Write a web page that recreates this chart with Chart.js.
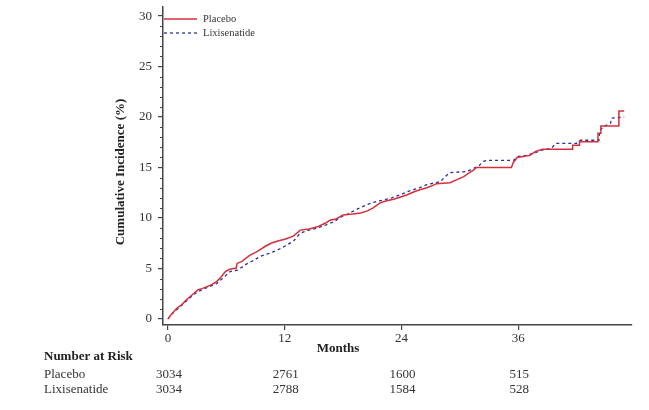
<!DOCTYPE html>
<html>
<head>
<meta charset="utf-8">
<script src="https://cdn.jsdelivr.net/npm/chart.js@4.4.3/dist/chart.umd.min.js"></script>
<style>
  html, body { margin: 0; padding: 0; background: #fff; }
  #wrap { width: 649px; height: 410px; position: relative; }
</style>
</head>
<body>
<div id="wrap"><canvas id="km"></canvas></div>
<script>
// cumulative incidence (%), months since randomisation
const placeboMonths = [0, 0.3, 0.9, 1.4, 1.9, 2.5, 3.1, 3.5, 4.0, 4.5, 5.0, 5.5, 5.9, 6.3, 6.7, 7.0, 7.1, 7.6, 8.4, 9.2,
  10.0, 10.6, 11.2, 12.0, 12.9, 13.6, 14.5, 15.3, 16.2, 16.7, 17.3, 18.0, 19.0, 19.8, 20.5, 21.1, 21.8, 22.5, 23.2, 24.0,
  24.6, 25.3, 25.9, 26.6, 27.3, 27.6, 29.0, 29.7, 30.4, 31.0, 31.4, 31.7, 35.3, 35.5, 35.9, 36.5, 37.2, 37.8, 38.5,
  41.6, 41.6, 42.3, 42.3, 44.2, 44.2, 44.5, 44.5, 46.35, 46.35, 46.9];
const placeboPct = [0, 0.4, 1.06, 1.4, 1.9, 2.4, 2.9, 3.0, 3.2, 3.4, 3.7, 4.2, 4.7, 4.9, 5.0, 5.0, 5.5, 5.7, 6.3, 6.7,
  7.2, 7.5, 7.7, 7.9, 8.2, 8.8, 8.9, 9.1, 9.5, 9.8, 9.9, 10.3, 10.4, 10.5, 10.7, 11.0, 11.5, 11.7, 11.85, 12.1,
  12.3, 12.6, 12.8, 13.0, 13.25, 13.4, 13.5, 13.8, 14.1, 14.5, 14.75, 15.0, 15.0, 15.5, 16.0, 16.1, 16.2, 16.6, 16.8,
  16.8, 17.2, 17.2, 17.55, 17.55, 18.4, 18.4, 19.1, 19.1, 20.6, 20.6];

const lixiMonths = [0, 0.4, 0.9, 1.7, 2.6, 3.3, 4.0, 5.0, 5.6, 6.4, 7.2, 8.0, 8.8, 9.5, 10.4, 11.2, 12.0, 12.9, 13.6,
  14.5, 15.3, 16.2, 17.0, 17.8, 18.7, 19.5, 20.4, 21.3, 22.2, 23.0, 23.9, 24.6, 25.2, 25.9, 26.6, 27.3, 28.0, 28.5,
  29.0, 30.7, 31.4, 32.0, 32.4, 32.8, 35.5, 36.0, 36.8, 37.6, 38.3, 39.4, 39.9, 42.0, 42.4, 44.3, 44.4, 44.9, 45.5,
  45.6, 46.9];
const lixiPct = [0, 0.5, 0.9, 1.6, 2.4, 2.8, 3.1, 3.5, 4.0, 4.7, 4.85, 5.4, 5.8, 6.2, 6.5, 6.8, 7.2, 7.7, 8.5,
  8.8, 9.0, 9.3, 9.6, 10.1, 10.5, 10.9, 11.3, 11.6, 11.8, 12.0, 12.3, 12.6, 12.8, 13.0, 13.3, 13.45, 13.6, 14.1,
  14.5, 14.6, 14.9, 15.2, 15.6, 15.7, 15.7, 16.1, 16.2, 16.4, 16.7, 16.9, 17.4, 17.4, 17.7, 17.7, 18.7, 19.1, 19.4,
  19.9, 20.0];

const xTicks = [0, 12, 24, 36];
const yTicks = [0, 5, 10, 15, 20, 25, 30];

const riskTimes = [0, 12, 24, 36];
const placeboAtRisk = [3034, 2761, 1600, 515];
const lixiAtRisk = [3034, 2788, 1584, 528];

const SERIF = "'Liberation Serif', 'DejaVu Serif', serif";
const INK = "#333333";
const AXIS = "#444444";

function toPoints(xs, ys) {
  return xs.map((x, i) => ({ x, y: ys[i] }));
}

// drop the label padding chart.js adds, so the plot box sits where the reference has it
function noPadding(s) {
  s.paddingTop = 0;
  s.paddingBottom = 0;
  s.paddingLeft = 0;
  s.paddingRight = 0;
}

// legend, minor ticks, axis titles and the number-at-risk table
const annotations = {
  id: "annotations",
  afterDraw(chart) {
    const ctx = chart.ctx;
    const x = chart.scales.x;
    const y = chart.scales.y;
    ctx.save();

    // minor y ticks every 1 unit
    ctx.strokeStyle = AXIS;
    ctx.lineWidth = 1;
    for (let v = 1; v < 31; v++) {
      if (v % 5 === 0) continue;
      const py = Math.round(y.getPixelForValue(v)) + 0.5;
      ctx.beginPath();
      ctx.moveTo(x.left - 3, py);
      ctx.lineTo(x.left, py);
      ctx.stroke();
    }

    // legend
    chart.data.datasets.forEach((ds, i) => {
      const ly = 19 + i * 14;
      ctx.strokeStyle = ds.borderColor;
      ctx.lineWidth = ds.borderWidth;
      ctx.setLineDash(ds.borderDash || []);
      ctx.beginPath();
      ctx.moveTo(164, ly);
      ctx.lineTo(197, ly);
      ctx.stroke();
      ctx.setLineDash([]);
      ctx.fillStyle = INK;
      ctx.font = "10.5px " + SERIF;
      ctx.textAlign = "left";
      ctx.textBaseline = "middle";
      ctx.fillText(ds.label, 203, ly);
    });

    // y title
    ctx.fillStyle = "#222";
    ctx.font = "bold 13px " + SERIF;
    ctx.textAlign = "center";
    ctx.textBaseline = "middle";
    ctx.save();
    ctx.translate(121, 172);
    ctx.rotate(-Math.PI / 2);
    ctx.fillText("Cumulative Incidence (%)", 0, 0);
    ctx.restore();

    // x title
    ctx.fillText("Months", 338, 349);

    // number at risk
    ctx.textAlign = "left";
    ctx.fillText("Number at Risk", 44, 357);
    ctx.font = "13px " + SERIF;
    ctx.fillStyle = INK;
    ctx.fillText("Placebo", 44, 375);
    ctx.fillText("Lixisenatide", 44, 390);
    ctx.textAlign = "center";
    riskTimes.forEach((t, i) => {
      const px = x.getPixelForValue(t) + 1;
      ctx.fillText(String(placeboAtRisk[i]), px, 375);
      ctx.fillText(String(lixiAtRisk[i]), px, 390);
    });
    ctx.restore();
  },
};

new Chart(document.getElementById("km"), {
  type: "line",
  data: {
    datasets: [
      {
        label: "Placebo",
        data: toPoints(placeboMonths, placeboPct),
        borderColor: "#d62f3a",
        borderWidth: 1.5,
        pointRadius: 0,
        tension: 0,
      },
      {
        label: "Lixisenatide",
        data: toPoints(lixiMonths, lixiPct),
        borderColor: "#2b2f9e",
        borderWidth: 1.3,
        borderDash: [3, 3],
        pointRadius: 0,
        tension: 0,
      },
    ],
  },
  options: {
    responsive: true,
    maintainAspectRatio: false,
    animation: false,
    layout: { padding: { top: 7, right: 17, left: 0, bottom: 0 } },
    plugins: { legend: { display: false }, tooltip: { enabled: false } },
    scales: {
      x: {
        type: "linear",
        min: -0.51,
        max: 47.7,
        afterFit: (s) => { s.height = 85; noPadding(s); },
        afterBuildTicks: (s) => { s.ticks = xTicks.map((v) => ({ value: v })); },
        border: { display: true, color: AXIS, width: 1.5 },
        grid: { drawOnChartArea: false, drawTicks: true, tickLength: 5, color: AXIS, lineWidth: 1.2 },
        ticks: { padding: 1, color: INK, font: { family: SERIF, size: 13 }, maxRotation: 0 },
      },
      y: {
        min: -0.6,
        max: 30.9,
        afterFit: (s) => { s.width = 163; noPadding(s); },
        afterBuildTicks: (s) => { s.ticks = yTicks.map((v) => ({ value: v })); },
        border: { display: true, color: AXIS, width: 1.5 },
        grid: { drawOnChartArea: false, drawTicks: true, tickLength: 5, color: AXIS, lineWidth: 1.2 },
        ticks: { padding: 6, color: INK, font: { family: SERIF, size: 13 } },
      },
    },
  },
  plugins: [annotations],
});
</script>
</body>
</html>
